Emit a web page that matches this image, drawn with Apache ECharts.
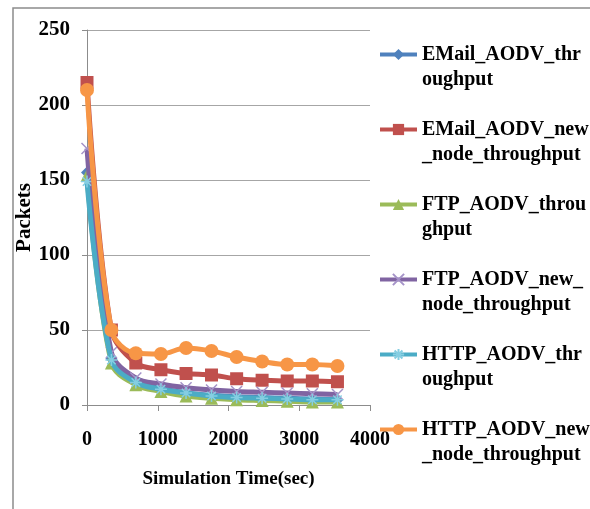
<!DOCTYPE html>
<html>
<head>
<meta charset="utf-8">
<script src="https://cdn.jsdelivr.net/npm/echarts@6/dist/echarts.min.js"></script>
<style>
  html, body { margin: 0; padding: 0; background: #fff; }
  #chart { width: 590px; height: 509px; }
</style>
</head>
<body>
<div id="chart"></div>
<script>
const timeSec = [0, 345, 690, 1045, 1400, 1760, 2115, 2475, 2830, 3185, 3540];

const emailAodv = [155, 31, 16, 11, 8, 6.5, 5.5, 5, 4.5, 4, 3.5];
const emailAodvNew = [215, 50, 28, 23.5, 21, 20, 17.5, 16.5, 16, 16, 15.5];
const ftpAodv = [153, 28, 13.5, 9, 6, 4.5, 3.5, 3, 2.5, 2, 2];
const ftpAodvNew = [171, 35, 18, 14, 11.5, 10, 9, 8.5, 8, 7.5, 7];
const httpAodv = [149, 30, 15, 10.5, 8, 6, 5, 4.5, 4, 3.5, 3.5];
const httpAodvNew = [210, 50, 34.5, 34, 38, 36, 32, 29, 27, 27, 26];

const seriesNames = [
  "EMail_AODV_throughput",
  "EMail_AODV_new_node_throughput",
  "FTP_AODV_throughput",
  "FTP_AODV_new_node_throughput",
  "HTTP_AODV_throughput",
  "HTTP_AODV_new_node_throughput"
];
// how Excel wrapped each legend entry
const legendLines = [
  ["EMail_AODV_thr", "oughput"],
  ["EMail_AODV_new", "_node_throughput"],
  ["FTP_AODV_throu", "ghput"],
  ["FTP_AODV_new_", "node_throughput"],
  ["HTTP_AODV_thr", "oughput"],
  ["HTTP_AODV_new", "_node_throughput"]
];

const xTicks = { min: 0, max: 4000, interval: 1000 };
const yTicks = { min: 0, max: 250, interval: 50 };

const FONT = '"Liberation Serif", "Times New Roman", serif';

const styles = [
  { color: "#4F81BD", symbol: "diamond", size: 12 },
  { color: "#C0504D", symbol: "rect", size: 13 },
  { color: "#9BBB59", symbol: "triangle", size: 13 },
  { color: "#8064A2", symbol: "path://M0,0L10,10M10,0L0,10", size: 11, stroke: "#A593C8" },
  { color: "#4BACC6", symbol: "path://M5,0L5,10M0,5L10,5M1.5,1.5L8.5,8.5M8.5,1.5L1.5,8.5", size: 12, stroke: "#85CEE2" },
  { color: "#F79646", symbol: "circle", size: 14 }
];

const values = [emailAodv, emailAodvNew, ftpAodv, ftpAodvNew, httpAodv, httpAodvNew];

const chart = echarts.init(document.getElementById("chart"));

chart.setOption({
  backgroundColor: "#fff",
  animation: false,
  textStyle: { fontFamily: FONT },
  graphic: [
    {
      type: "rect",
      shape: { x: 13, y: 8, width: 640, height: 560 },
      style: { fill: "none", stroke: "#8c8c8c", lineWidth: 1.5 },
      silent: true
    }
  ],
  grid: { left: 87, right: 220, top: 30, bottom: 104 },
  legend: {
    orient: "vertical",
    left: 378,
    top: 17,
    padding: 0,
    itemGap: 0,
    itemWidth: 37,
    itemHeight: 14,
    data: seriesNames,
    lineStyle: { width: 4 },
    formatter: (name) => " \n" + legendLines[seriesNames.indexOf(name)].join("\n"),
    textStyle: {
      fontFamily: FONT,
      fontWeight: "bold",
      fontSize: 20,
      lineHeight: 25,
      color: "#000"
    }
  },
  xAxis: {
    type: "value",
    min: xTicks.min,
    max: xTicks.max,
    interval: xTicks.interval,
    name: "Simulation Time(sec)",
    nameLocation: "middle",
    nameGap: 65,
    nameTextStyle: { fontFamily: FONT, fontWeight: "bold", fontSize: 19, color: "#000" },
    axisLine: { show: true, lineStyle: { color: "#8c8c8c", width: 1 } },
    axisTick: { show: true, length: 6, lineStyle: { color: "#8c8c8c" } },
    axisLabel: {
      margin: 25,
      formatter: (v) => String(v),
      fontFamily: FONT,
      fontWeight: "bold",
      fontSize: 20,
      color: "#000"
    },
    splitLine: { show: false }
  },
  yAxis: {
    type: "value",
    min: yTicks.min,
    max: yTicks.max,
    interval: yTicks.interval,
    name: "Packets",
    nameLocation: "middle",
    nameGap: 47,
    nameTextStyle: { fontFamily: FONT, fontWeight: "bold", fontSize: 21, color: "#000" },
    axisLine: { show: true, lineStyle: { color: "#8c8c8c", width: 1 } },
    axisTick: { show: true, length: 5, lineStyle: { color: "#8c8c8c" } },
    axisLabel: { margin: 17, fontFamily: FONT, fontWeight: "bold", fontSize: 21, color: "#000" },
    splitLine: { show: true, lineStyle: { color: "#a6a6a6", width: 1 } }
  },
  series: seriesNames.map((name, i) => ({
    name,
    type: "line",
    smooth: 0.35,
    symbol: styles[i].symbol,
    symbolSize: styles[i].size,
    showAllSymbol: true,
    data: timeSec.map((t, k) => [t, values[i][k]]),
    lineStyle: { color: styles[i].color, width: 5 },
    itemStyle: styles[i].stroke
      ? { color: styles[i].color, borderColor: styles[i].stroke, borderWidth: 1.5 }
      : { color: styles[i].color, borderWidth: 0 },
    z: 2 + i
  }))
});
</script>
</body>
</html>
